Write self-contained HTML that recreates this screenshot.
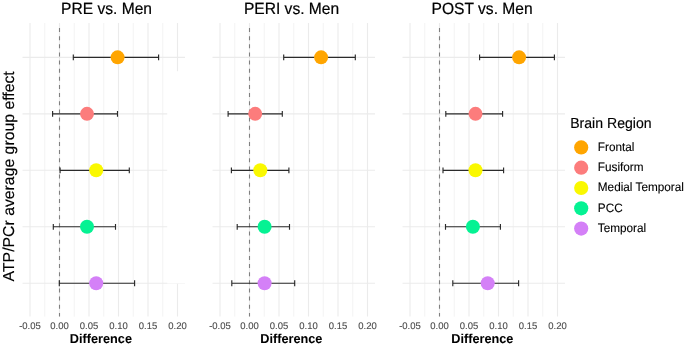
<!DOCTYPE html>
<html><head><meta charset="utf-8"><style>
html,body{margin:0;padding:0;background:#fff;}
body{width:685px;height:347px;overflow:hidden;}
svg{display:block;will-change:transform;text-rendering:geometricPrecision;font-family:"Liberation Sans",sans-serif;}
</style></head><body>
<svg width="685" height="347" viewBox="0 0 685 347">
<rect width="685" height="347" fill="#fff"/>
<line x1="22.50" y1="57.35" x2="185.00" y2="57.35" stroke="#EBEBEB" stroke-width="1.1"/>
<line x1="22.50" y1="113.83" x2="185.00" y2="113.83" stroke="#EBEBEB" stroke-width="1.1"/>
<line x1="22.50" y1="170.31" x2="185.00" y2="170.31" stroke="#EBEBEB" stroke-width="1.1"/>
<line x1="22.50" y1="226.79" x2="185.00" y2="226.79" stroke="#EBEBEB" stroke-width="1.1"/>
<line x1="22.50" y1="283.27" x2="185.00" y2="283.27" stroke="#EBEBEB" stroke-width="1.1"/>
<line x1="30.00" y1="23.0" x2="30.00" y2="316.6" stroke="#EBEBEB" stroke-width="1.1"/>
<line x1="44.75" y1="23.0" x2="44.75" y2="316.6" stroke="#EBEBEB" stroke-width="0.6"/>
<line x1="59.50" y1="23.0" x2="59.50" y2="316.6" stroke="#EBEBEB" stroke-width="1.1"/>
<line x1="74.25" y1="23.0" x2="74.25" y2="316.6" stroke="#EBEBEB" stroke-width="0.6"/>
<line x1="89.00" y1="23.0" x2="89.00" y2="316.6" stroke="#EBEBEB" stroke-width="1.1"/>
<line x1="103.75" y1="23.0" x2="103.75" y2="316.6" stroke="#EBEBEB" stroke-width="0.6"/>
<line x1="118.50" y1="23.0" x2="118.50" y2="316.6" stroke="#EBEBEB" stroke-width="1.1"/>
<line x1="133.25" y1="23.0" x2="133.25" y2="316.6" stroke="#EBEBEB" stroke-width="0.6"/>
<line x1="148.00" y1="23.0" x2="148.00" y2="316.6" stroke="#EBEBEB" stroke-width="1.1"/>
<line x1="162.75" y1="23.0" x2="162.75" y2="316.6" stroke="#EBEBEB" stroke-width="0.6"/>
<line x1="177.50" y1="23.0" x2="177.50" y2="316.6" stroke="#EBEBEB" stroke-width="1.1"/>
<rect x="167.2" y="71.2" width="19" height="212.25" fill="#fff"/>
<line x1="59.50" y1="28" x2="59.50" y2="316.6" stroke="#808080" stroke-width="1.1" stroke-dasharray="4 4.14"/>
<path d="M73.30 57.35H158.60M73.30 54.45V60.25M158.60 54.45V60.25" stroke="#2b2b2b" stroke-width="1.15" fill="none"/>
<path d="M52.60 113.83H117.50M52.60 110.93V116.73M117.50 110.93V116.73" stroke="#2b2b2b" stroke-width="1.15" fill="none"/>
<path d="M60.10 170.31H129.30M60.10 167.41V173.21M129.30 167.41V173.21" stroke="#2b2b2b" stroke-width="1.15" fill="none"/>
<path d="M53.30 226.79H115.50M53.30 223.89V229.69M115.50 223.89V229.69" stroke="#2b2b2b" stroke-width="1.15" fill="none"/>
<path d="M59.30 283.27H134.60M59.30 280.37V286.17M134.60 280.37V286.17" stroke="#2b2b2b" stroke-width="1.15" fill="none"/>
<circle cx="117.60" cy="57.35" r="7" fill="#FFA500"/>
<circle cx="87.00" cy="113.83" r="7" fill="#FC7C7C"/>
<circle cx="96.20" cy="170.31" r="7" fill="#FAF800"/>
<circle cx="87.00" cy="226.79" r="7" fill="#05F293"/>
<circle cx="96.20" cy="283.27" r="7" fill="#D480F7"/>
<text transform="translate(30.00 328.75) scale(0.99 1)" font-size="9.6" fill="#4D4D4D" text-anchor="middle" stroke="#4D4D4D" stroke-width="0.12">-0.05</text>
<text transform="translate(59.50 328.75) scale(0.99 1)" font-size="9.6" fill="#4D4D4D" text-anchor="middle" stroke="#4D4D4D" stroke-width="0.12">0.00</text>
<text transform="translate(89.00 328.75) scale(0.99 1)" font-size="9.6" fill="#4D4D4D" text-anchor="middle" stroke="#4D4D4D" stroke-width="0.12">0.05</text>
<text transform="translate(118.50 328.75) scale(0.99 1)" font-size="9.6" fill="#4D4D4D" text-anchor="middle" stroke="#4D4D4D" stroke-width="0.12">0.10</text>
<text transform="translate(148.00 328.75) scale(0.99 1)" font-size="9.6" fill="#4D4D4D" text-anchor="middle" stroke="#4D4D4D" stroke-width="0.12">0.15</text>
<text transform="translate(177.50 328.75) scale(0.99 1)" font-size="9.6" fill="#4D4D4D" text-anchor="middle" stroke="#4D4D4D" stroke-width="0.12">0.20</text>
<text transform="translate(100.90 342.90) scale(0.985 1)" font-size="12.9" fill="#000" text-anchor="middle" font-weight="bold" stroke="#000" stroke-width="0.05">Difference</text>
<text transform="translate(106.55 13.80) scale(0.957 1)" font-size="16.3" fill="#000" text-anchor="middle" stroke="#000" stroke-width="0.2">PRE vs. Men</text>
<line x1="212.50" y1="57.35" x2="375.00" y2="57.35" stroke="#EBEBEB" stroke-width="1.1"/>
<line x1="212.50" y1="113.83" x2="375.00" y2="113.83" stroke="#EBEBEB" stroke-width="1.1"/>
<line x1="212.50" y1="170.31" x2="375.00" y2="170.31" stroke="#EBEBEB" stroke-width="1.1"/>
<line x1="212.50" y1="226.79" x2="375.00" y2="226.79" stroke="#EBEBEB" stroke-width="1.1"/>
<line x1="212.50" y1="283.27" x2="375.00" y2="283.27" stroke="#EBEBEB" stroke-width="1.1"/>
<line x1="220.00" y1="23.0" x2="220.00" y2="316.6" stroke="#EBEBEB" stroke-width="1.1"/>
<line x1="234.75" y1="23.0" x2="234.75" y2="316.6" stroke="#EBEBEB" stroke-width="0.6"/>
<line x1="249.50" y1="23.0" x2="249.50" y2="316.6" stroke="#EBEBEB" stroke-width="1.1"/>
<line x1="264.25" y1="23.0" x2="264.25" y2="316.6" stroke="#EBEBEB" stroke-width="0.6"/>
<line x1="279.00" y1="23.0" x2="279.00" y2="316.6" stroke="#EBEBEB" stroke-width="1.1"/>
<line x1="293.75" y1="23.0" x2="293.75" y2="316.6" stroke="#EBEBEB" stroke-width="0.6"/>
<line x1="308.50" y1="23.0" x2="308.50" y2="316.6" stroke="#EBEBEB" stroke-width="1.1"/>
<line x1="323.25" y1="23.0" x2="323.25" y2="316.6" stroke="#EBEBEB" stroke-width="0.6"/>
<line x1="338.00" y1="23.0" x2="338.00" y2="316.6" stroke="#EBEBEB" stroke-width="1.1"/>
<line x1="352.75" y1="23.0" x2="352.75" y2="316.6" stroke="#EBEBEB" stroke-width="0.6"/>
<line x1="367.50" y1="23.0" x2="367.50" y2="316.6" stroke="#EBEBEB" stroke-width="1.1"/>
<line x1="249.50" y1="28" x2="249.50" y2="316.6" stroke="#808080" stroke-width="1.1" stroke-dasharray="4 4.14"/>
<path d="M283.70 57.35H355.30M283.70 54.45V60.25M355.30 54.45V60.25" stroke="#2b2b2b" stroke-width="1.15" fill="none"/>
<path d="M228.10 113.83H282.30M228.10 110.93V116.73M282.30 110.93V116.73" stroke="#2b2b2b" stroke-width="1.15" fill="none"/>
<path d="M231.40 170.31H288.90M231.40 167.41V173.21M288.90 167.41V173.21" stroke="#2b2b2b" stroke-width="1.15" fill="none"/>
<path d="M237.20 226.79H289.50M237.20 223.89V229.69M289.50 223.89V229.69" stroke="#2b2b2b" stroke-width="1.15" fill="none"/>
<path d="M231.80 283.27H294.70M231.80 280.37V286.17M294.70 280.37V286.17" stroke="#2b2b2b" stroke-width="1.15" fill="none"/>
<circle cx="321.10" cy="57.35" r="7" fill="#FFA500"/>
<circle cx="255.20" cy="113.83" r="7" fill="#FC7C7C"/>
<circle cx="260.30" cy="170.31" r="7" fill="#FAF800"/>
<circle cx="264.60" cy="226.79" r="7" fill="#05F293"/>
<circle cx="264.60" cy="283.27" r="7" fill="#D480F7"/>
<text transform="translate(220.00 328.75) scale(0.99 1)" font-size="9.6" fill="#4D4D4D" text-anchor="middle" stroke="#4D4D4D" stroke-width="0.12">-0.05</text>
<text transform="translate(249.50 328.75) scale(0.99 1)" font-size="9.6" fill="#4D4D4D" text-anchor="middle" stroke="#4D4D4D" stroke-width="0.12">0.00</text>
<text transform="translate(279.00 328.75) scale(0.99 1)" font-size="9.6" fill="#4D4D4D" text-anchor="middle" stroke="#4D4D4D" stroke-width="0.12">0.05</text>
<text transform="translate(308.50 328.75) scale(0.99 1)" font-size="9.6" fill="#4D4D4D" text-anchor="middle" stroke="#4D4D4D" stroke-width="0.12">0.10</text>
<text transform="translate(338.00 328.75) scale(0.99 1)" font-size="9.6" fill="#4D4D4D" text-anchor="middle" stroke="#4D4D4D" stroke-width="0.12">0.15</text>
<text transform="translate(367.50 328.75) scale(0.99 1)" font-size="9.6" fill="#4D4D4D" text-anchor="middle" stroke="#4D4D4D" stroke-width="0.12">0.20</text>
<text transform="translate(291.30 342.90) scale(0.985 1)" font-size="12.9" fill="#000" text-anchor="middle" font-weight="bold" stroke="#000" stroke-width="0.05">Difference</text>
<text transform="translate(291.55 13.80) scale(0.957 1)" font-size="16.3" fill="#000" text-anchor="middle" stroke="#000" stroke-width="0.2">PERI vs. Men</text>
<line x1="402.50" y1="57.35" x2="565.00" y2="57.35" stroke="#EBEBEB" stroke-width="1.1"/>
<line x1="402.50" y1="113.83" x2="565.00" y2="113.83" stroke="#EBEBEB" stroke-width="1.1"/>
<line x1="402.50" y1="170.31" x2="565.00" y2="170.31" stroke="#EBEBEB" stroke-width="1.1"/>
<line x1="402.50" y1="226.79" x2="565.00" y2="226.79" stroke="#EBEBEB" stroke-width="1.1"/>
<line x1="402.50" y1="283.27" x2="565.00" y2="283.27" stroke="#EBEBEB" stroke-width="1.1"/>
<line x1="410.00" y1="23.0" x2="410.00" y2="316.6" stroke="#EBEBEB" stroke-width="1.1"/>
<line x1="424.75" y1="23.0" x2="424.75" y2="316.6" stroke="#EBEBEB" stroke-width="0.6"/>
<line x1="439.50" y1="23.0" x2="439.50" y2="316.6" stroke="#EBEBEB" stroke-width="1.1"/>
<line x1="454.25" y1="23.0" x2="454.25" y2="316.6" stroke="#EBEBEB" stroke-width="0.6"/>
<line x1="469.00" y1="23.0" x2="469.00" y2="316.6" stroke="#EBEBEB" stroke-width="1.1"/>
<line x1="483.75" y1="23.0" x2="483.75" y2="316.6" stroke="#EBEBEB" stroke-width="0.6"/>
<line x1="498.50" y1="23.0" x2="498.50" y2="316.6" stroke="#EBEBEB" stroke-width="1.1"/>
<line x1="513.25" y1="23.0" x2="513.25" y2="316.6" stroke="#EBEBEB" stroke-width="0.6"/>
<line x1="528.00" y1="23.0" x2="528.00" y2="316.6" stroke="#EBEBEB" stroke-width="1.1"/>
<line x1="542.75" y1="23.0" x2="542.75" y2="316.6" stroke="#EBEBEB" stroke-width="0.6"/>
<line x1="557.50" y1="23.0" x2="557.50" y2="316.6" stroke="#EBEBEB" stroke-width="1.1"/>
<line x1="439.50" y1="28" x2="439.50" y2="316.6" stroke="#808080" stroke-width="1.1" stroke-dasharray="4 4.14"/>
<path d="M479.60 57.35H554.40M479.60 54.45V60.25M554.40 54.45V60.25" stroke="#2b2b2b" stroke-width="1.15" fill="none"/>
<path d="M445.80 113.83H502.60M445.80 110.93V116.73M502.60 110.93V116.73" stroke="#2b2b2b" stroke-width="1.15" fill="none"/>
<path d="M443.00 170.31H503.60M443.00 167.41V173.21M503.60 167.41V173.21" stroke="#2b2b2b" stroke-width="1.15" fill="none"/>
<path d="M445.50 226.79H500.40M445.50 223.89V229.69M500.40 223.89V229.69" stroke="#2b2b2b" stroke-width="1.15" fill="none"/>
<path d="M452.80 283.27H518.60M452.80 280.37V286.17M518.60 280.37V286.17" stroke="#2b2b2b" stroke-width="1.15" fill="none"/>
<circle cx="519.10" cy="57.35" r="7" fill="#FFA500"/>
<circle cx="475.50" cy="113.83" r="7" fill="#FC7C7C"/>
<circle cx="475.50" cy="170.31" r="7" fill="#FAF800"/>
<circle cx="472.90" cy="226.79" r="7" fill="#05F293"/>
<circle cx="487.70" cy="283.27" r="7" fill="#D480F7"/>
<text transform="translate(410.00 328.75) scale(0.99 1)" font-size="9.6" fill="#4D4D4D" text-anchor="middle" stroke="#4D4D4D" stroke-width="0.12">-0.05</text>
<text transform="translate(439.50 328.75) scale(0.99 1)" font-size="9.6" fill="#4D4D4D" text-anchor="middle" stroke="#4D4D4D" stroke-width="0.12">0.00</text>
<text transform="translate(469.00 328.75) scale(0.99 1)" font-size="9.6" fill="#4D4D4D" text-anchor="middle" stroke="#4D4D4D" stroke-width="0.12">0.05</text>
<text transform="translate(498.50 328.75) scale(0.99 1)" font-size="9.6" fill="#4D4D4D" text-anchor="middle" stroke="#4D4D4D" stroke-width="0.12">0.10</text>
<text transform="translate(528.00 328.75) scale(0.99 1)" font-size="9.6" fill="#4D4D4D" text-anchor="middle" stroke="#4D4D4D" stroke-width="0.12">0.15</text>
<text transform="translate(557.50 328.75) scale(0.99 1)" font-size="9.6" fill="#4D4D4D" text-anchor="middle" stroke="#4D4D4D" stroke-width="0.12">0.20</text>
<text transform="translate(482.30 342.90) scale(0.985 1)" font-size="12.9" fill="#000" text-anchor="middle" font-weight="bold" stroke="#000" stroke-width="0.05">Difference</text>
<text transform="translate(482.10 13.80) scale(0.957 1)" font-size="16.3" fill="#000" text-anchor="middle" stroke="#000" stroke-width="0.2">POST vs. Men</text>
<text transform="translate(14.10 281.40) rotate(-90)" font-size="15.8" fill="#000" stroke="#000" stroke-width="0.15">ATP/PCr average group effect</text>
<text transform="translate(570.20 127.60) scale(0.965 1)" font-size="14.6" fill="#000" stroke="#000" stroke-width="0.15">Brain Region</text>
<circle cx="581.2" cy="147.40" r="7.1" fill="#FFA500"/>
<text transform="translate(597.80 150.65) scale(0.965 1)" font-size="12.2" fill="#000" stroke="#000" stroke-width="0.12">Frontal</text>
<circle cx="581.2" cy="167.70" r="7.1" fill="#FC7C7C"/>
<text transform="translate(597.80 170.95) scale(0.965 1)" font-size="12.2" fill="#000" stroke="#000" stroke-width="0.12">Fusiform</text>
<circle cx="581.2" cy="188.00" r="7.1" fill="#FAF800"/>
<text transform="translate(597.80 191.25) scale(0.965 1)" font-size="12.2" fill="#000" stroke="#000" stroke-width="0.12">Medial Temporal</text>
<circle cx="581.2" cy="208.30" r="7.1" fill="#05F293"/>
<text transform="translate(597.80 211.55) scale(0.965 1)" font-size="12.2" fill="#000" stroke="#000" stroke-width="0.12">PCC</text>
<circle cx="581.2" cy="228.60" r="7.1" fill="#D480F7"/>
<text transform="translate(597.80 231.85) scale(0.965 1)" font-size="12.2" fill="#000" stroke="#000" stroke-width="0.12">Temporal</text>
</svg>
</body></html>
